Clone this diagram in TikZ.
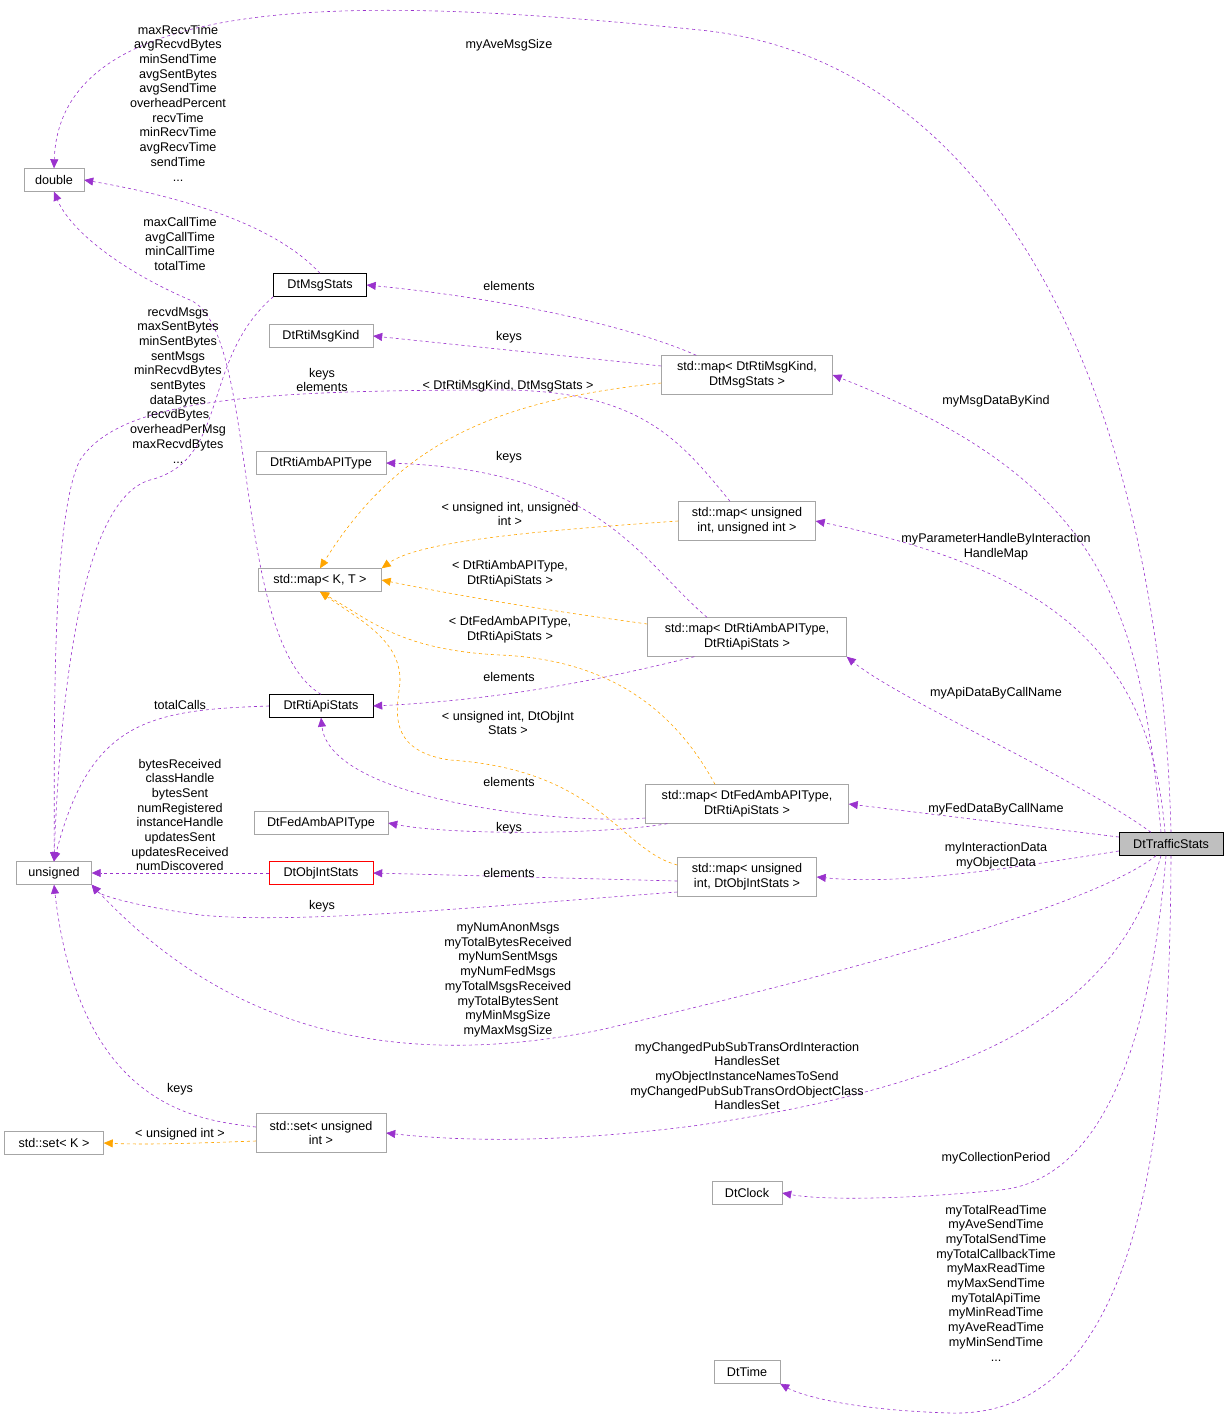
\documentclass[tikz,border=0pt]{standalone}
\usepackage{fontspec}
\setmainfont{Liberation Sans}
\usetikzlibrary{arrows.meta}
\definecolor{pu}{HTML}{9A32CD}
\definecolor{or}{HTML}{FFA500}
\begin{document}
\begin{tikzpicture}[x=1pt,y=-1pt,font=\fontsize{12.6}{14.7}\selectfont,
 box/.style={draw=black!35,fill=white,minimum height=23pt,inner sep=2pt},
 bx/.style={draw=black,fill=white,minimum height=23pt,inner sep=2pt},
 tb/.style={box,align=center,minimum height=39pt},
 lab/.style={align=center,inner sep=0pt},
 e/.style={draw=pu,dashed,-{Triangle[length=9pt,width=8pt]},line width=0.6pt},
 o/.style={draw=or,dashed,-{Triangle[length=9pt,width=8pt,fill=or]},line width=0.6pt}]
\useasboundingbox (0,0) rectangle (1229,1419);
% nodes
\node[box,minimum width=60pt] (dbl) at (54,180) {double};
\node[bx,minimum width=93pt] (msg) at (320,285) {DtMsgStats};
\node[box,minimum width=104pt] (kind) at (321,336) {DtRtiMsgKind};
\node[box,minimum width=130pt] (ramb) at (321,463) {DtRtiAmbAPIType};
\node[box,minimum width=123pt] (kt) at (320,580) {std::map< K, T >};
\node[bx,minimum width=104pt] (api) at (321,706) {DtRtiApiStats};
\node[box,minimum width=134pt] (famb) at (321,823) {DtFedAmbAPIType};
\node[draw=red,fill=white,minimum height=23pt,minimum width=104pt,inner sep=2pt] (obj) at (321,873) {DtObjIntStats};
\node[box,minimum width=75pt] (uns) at (54,873) {unsigned};
\node[tb,minimum width=130pt] (set) at (321,1133) {std::set< unsigned\\int >};
\node[box,minimum width=99pt] (setk) at (54,1143) {std::set< K >};
\node[tb,minimum width=171pt] (m1) at (747,375) {std::map< DtRtiMsgKind,\\DtMsgStats >};
\node[tb,minimum width=137pt] (m2) at (747,521) {std::map< unsigned\\int, unsigned int >};
\node[tb,minimum width=199pt] (m3) at (747,637) {std::map< DtRtiAmbAPIType,\\DtRtiApiStats >};
\node[tb,minimum width=203pt] (m4) at (747,804) {std::map< DtFedAmbAPIType,\\DtRtiApiStats >};
\node[tb,minimum width=139pt] (m5) at (747,877) {std::map< unsigned\\int, DtObjIntStats >};
\node[box,minimum width=70pt] (clk) at (747,1193) {DtClock};
\node[box,minimum width=66pt] (tim) at (747,1372) {DtTime};
\node[draw=black,fill=black!25,minimum height=23pt,minimum width=104pt,inner sep=2pt] (ts) at (1171,844) {DtTrafficStats};
% edges
\draw[e] (ts.north) .. controls (1160,400) and (1000,60) .. (700,30) .. controls (400,0) and (60,-20) .. (dbl.north);
\node[lab] (l1) at (509,45) {myAveMsgSize};
\draw[e] (msg.north) .. controls (280,230) and (200,200) .. (dbl.east);
\node[lab] (l2) at (178,103) {maxRecvTime\\avgRecvdBytes\\minSendTime\\avgSentBytes\\avgSendTime\\overheadPercent\\recvTime\\minRecvTime\\avgRecvTime\\sendTime\\...};
\draw[e] (api.north) .. controls (230,640) and (260,330) .. (190,300) .. controls (120,270) and (70,230) .. (dbl.south);
\node[lab] (l3) at (180,244) {maxCallTime\\avgCallTime\\minCallTime\\totalTime};
\draw[e] (msg.south west) .. controls (200,360) and (230,460) .. (150,480) .. controls (80,500) and (60,700) .. (uns.north);
\node[lab] (l4) at (178,385) {recvdMsgs\\maxSentBytes\\minSentBytes\\sentMsgs\\minRecvdBytes\\sentBytes\\dataBytes\\recvdBytes\\overheadPerMsg\\maxRecvdBytes\\...};
\draw[e] (m1.north west) ++(35,0) .. controls (640,330) and (520,300) .. (msg.east);
\node[lab] (l5) at (509,286) {elements};
\draw[e] (m1.west) ++(0,-9) -- (kind.east);
\node[lab] (l6) at (509,337) {keys};
\draw[e] (m2.north) ++(-17,0) .. controls (680,440) and (640,390) .. (500,390) .. controls (250,390) and (120,400) .. (80,460) .. controls (50,520) and (55,750) .. (uns.north);
\node[lab] (l7) at (322,380) {keys\\elements};
\draw[o] (m1.west) ++(0,8) .. controls (500,400) and (400,440) .. (kt.north);
\node[lab] (l8) at (508,386) {< DtRtiMsgKind, DtMsgStats >};
\draw[e] (m3.north) ++(-40,0) .. controls (640,560) and (600,470) .. (ramb.east);
\node[lab] (l9) at (509,457) {keys};
\draw[o] (m2.west) .. controls (550,530) and (420,540) .. (kt.north east);
\node[lab] (l10) at (510,514) {< unsigned int, unsigned\\int >};
\draw[o] (m3.west) ++(0,-13) .. controls (560,612) and (480,600) .. (kt.east);
\node[lab] (l11) at (510,574) {< DtRtiAmbAPIType,\\DtRtiApiStats >};
\draw[o] (m4.north) ++(-32,0) .. controls (680,720) and (620,660) .. (500,655) .. controls (400,650) and (370,620) .. (kt.south);
\node[lab] (l12) at (510,630) {< DtFedAmbAPIType,\\DtRtiApiStats >};
\draw[o] (m5.west) ++(0,-12) .. controls (620,850) and (600,770) .. (450,760) .. controls (380,750) and (400,700) .. (400,680) .. controls (400,640) and (360,620) .. (kt.south);
\node[lab] (l13) at (508,723) {< unsigned int, DtObjInt\\Stats >};
\draw[e] (m3.south west) ++(47,0) .. controls (600,680) and (500,700) .. (api.east);
\node[lab] (l14) at (509,677) {elements};
\draw[e] (api.west) .. controls (150,710) and (90,720) .. (uns.north);
\node[lab] (l15) at (180,705) {totalCalls};
\draw[e] (m4.west) ++(0,14) .. controls (560,825) and (330,800) .. (api.south);
\node[lab] (l16) at (509,782) {elements};
\draw[e] (m4.south west) ++(22,0) .. controls (600,835) and (450,835) .. (famb.east);
\node[lab] (l17) at (509,828) {keys};
\draw[e] (obj.west) -- (uns.east);
\node[lab] (l18) at (180,815) {bytesReceived\\classHandle\\bytesSent\\numRegistered\\instanceHandle\\updatesSent\\updatesReceived\\numDiscovered};
\draw[e] (m5.west) ++(0,4) -- (obj.east);
\node[lab] (l19) at (509,873) {elements};
\draw[e] (m5.west) ++(0,15) .. controls (500,905) and (300,925) .. (200,915) .. controls (130,905) and (100,895) .. (uns.south east);
\node[lab] (l20) at (322,906) {keys};
\draw[e] (ts.south) ++(-15,0) .. controls (1100,900) and (900,960) .. (600,1030) .. controls (350,1080) and (200,1000) .. (uns.south east);
\node[lab] (l21) at (508,980) {myNumAnonMsgs\\myTotalBytesReceived\\myNumSentMsgs\\myNumFedMsgs\\myTotalMsgsReceived\\myTotalBytesSent\\myMinMsgSize\\myMaxMsgSize};
\draw[e] (ts.south) ++(-10,0) .. controls (1120,1000) and (1000,1080) .. (700,1125) .. controls (550,1145) and (450,1140) .. (set.east);
\node[lab] (l22) at (747,1076) {myChangedPubSubTransOrdInteraction\\HandlesSet\\myObjectInstanceNamesToSend\\myChangedPubSubTransOrdObjectClass\\HandlesSet};
\draw[e] (set.west) ++(0,-6) .. controls (200,1120) and (80,1110) .. (uns.south);
\node[lab] (l23) at (180,1089) {keys};
\draw[o] (set.west) ++(0,8) .. controls (200,1143) and (150,1145) .. (setk.east);
\node[lab] (l24) at (180,1134) {< unsigned int >};
\draw[e] (ts.south) ++(-5,0) .. controls (1150,1050) and (1100,1180) .. (1000,1190) .. controls (900,1200) and (820,1200) .. (clk.east);
\node[lab] (l25) at (996,1158) {myCollectionPeriod};
\draw[e] (ts.south) .. controls (1170,1100) and (1150,1419) .. (950,1413) .. controls (850,1410) and (800,1395) .. (tim.south east);
\node[lab] (l26) at (996,1283) {myTotalReadTime\\myAveSendTime\\myTotalSendTime\\myTotalCallbackTime\\myMaxReadTime\\myMaxSendTime\\myTotalApiTime\\myMinReadTime\\myAveReadTime\\myMinSendTime\\...};
\draw[e] (ts.north) ++(-10,0) .. controls (1140,600) and (1100,480) .. (m1.east);
\node[lab] (l27) at (996,401) {myMsgDataByKind};
\draw[e] (ts.north) ++(-6,0) .. controls (1150,650) and (1050,570) .. (m2.east);
\node[lab] (l28) at (996,547) {myParameterHandleByInteraction\\HandleMap};
\draw[e] (ts.north) ++(-20,0) .. controls (1080,780) and (900,700) .. (m3.south east);
\node[lab] (l29) at (996,693) {myApiDataByCallName};
\draw[e] (ts.west) ++(0,-7) -- (m4.east);
\node[lab] (l30) at (996,809) {myFedDataByCallName};
\draw[e] (ts.west) ++(0,7) .. controls (1000,870) and (900,885) .. (m5.east);
\node[lab] (l31) at (996,856) {myInteractionData\\myObjectData};
\end{tikzpicture}
\end{document}
